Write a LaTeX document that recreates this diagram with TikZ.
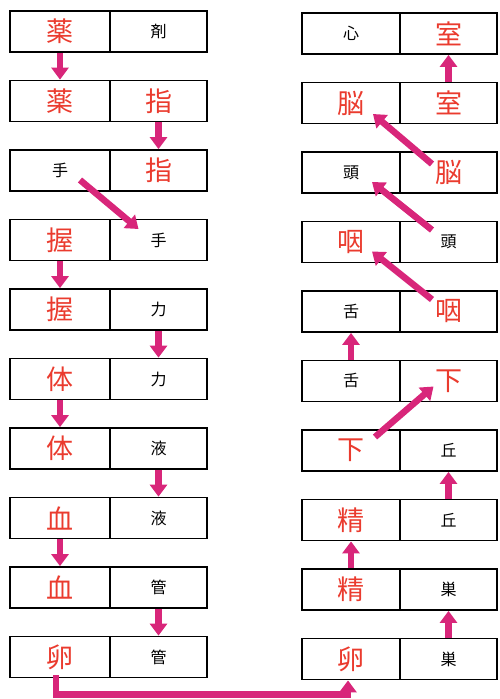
\documentclass[tikz,border=0pt]{standalone}
\usepackage{fontspec}
\newfontfamily\jp{Noto Sans CJK JP}
\usetikzlibrary{arrows.meta,calc}
\definecolor{arrmag}{HTML}{D8267A}
\definecolor{hand}{HTML}{EA3B2E}
\begin{document}
\begin{tikzpicture}[x=1pt,y=-1pt,
  cellbox/.style={draw,line width=1.8pt,minimum height=41pt,inner sep=0pt,anchor=center},
  pr/.style={text=black,font=\jp\fontsize{16}{16}\selectfont},
  hw/.style={text=hand,font=\jp\fontsize{27}{27}\selectfont},
  arr/.style={draw=arrmag,line width=6.5pt,-{Triangle[width=17pt,length=12pt]}}]
\useasboundingbox (0,0) rectangle (500,699);
\foreach \i/\sa/\ta/\sb/\tb in {1/hw/薬/pr/剤, 2/hw/薬/hw/指, 3/pr/手/hw/指, 4/hw/握/pr/手, 5/hw/握/pr/力, 6/hw/体/pr/力, 7/hw/体/pr/液, 8/hw/血/pr/液, 9/hw/血/pr/管, 10/hw/卵/pr/管}{
  \node[cellbox,\sa,minimum width=100pt] (L\i a) at (60,{31.5+69.5*(\i-1)}) {\ta};
  \node[cellbox,\sb,minimum width=97pt] (L\i b) at (158.5,{31.5+69.5*(\i-1)}) {\tb};
}
\foreach \i/\sa/\ta/\sb/\tb in {1/pr/心/hw/室, 2/hw/脳/hw/室, 3/pr/頭/hw/脳, 4/hw/咽/pr/頭, 5/pr/舌/hw/咽, 6/pr/舌/hw/下, 7/hw/下/pr/丘, 8/hw/精/pr/丘, 9/hw/精/pr/巣, 10/hw/卵/pr/巣}{
  \node[cellbox,\sa,minimum width=98pt] (R\i a) at (351,{33.5+69.5*(\i-1)}) {\ta};
  \node[cellbox,\sb,minimum width=97pt] (R\i b) at (448.5,{33.5+69.5*(\i-1)}) {\tb};
}
% left column
\draw[arr] (L1a.south) -- (L2a.north);
\draw[arr] (L2b.south) -- (L3b.north);
\draw[arr] ($(L3a.center)+(20,9.5)$) -- ($(L4b.center)+(-20,-11)$);
\draw[arr] (L4a.south) -- (L5a.north);
\draw[arr] (L5b.south) -- (L6b.north);
\draw[arr] (L6a.south) -- (L7a.north);
\draw[arr] (L7b.south) -- (L8b.north);
\draw[arr] (L8a.south) -- (L9a.north);
\draw[arr] (L9b.south) -- (L10b.north);
% bottom link
\draw[arr] ($(L10a.south)+(-4,-3)$) -- ++(0,19) -| ($(R10a.south)+(-3,0)$);
% right column
\draw[arr] (R10b.north) -- (R9b.south);
\draw[arr] (R9a.north) -- (R8a.south);
\draw[arr] (R8b.north) -- (R7b.south);
\draw[arr] ($(R7a.center)+(24,-13.5)$) -- ($(R6b.center)+(-15,5.5)$);
\draw[arr] (R6a.north) -- (R5a.south);
\draw[arr] ($(R5b.center)+(-16.5,-12)$) -- ($(R4a.center)+(21,9.5)$);
\draw[arr] ($(R4b.center)+(-16.5,-12)$) -- ($(R3a.center)+(21,9.5)$);
\draw[arr] ($(R3b.center)+(-16.5,-8.5)$) -- ($(R2a.center)+(22,11)$);
\draw[arr] (R2b.north) -- (R1b.south);
\end{tikzpicture}
\end{document}
